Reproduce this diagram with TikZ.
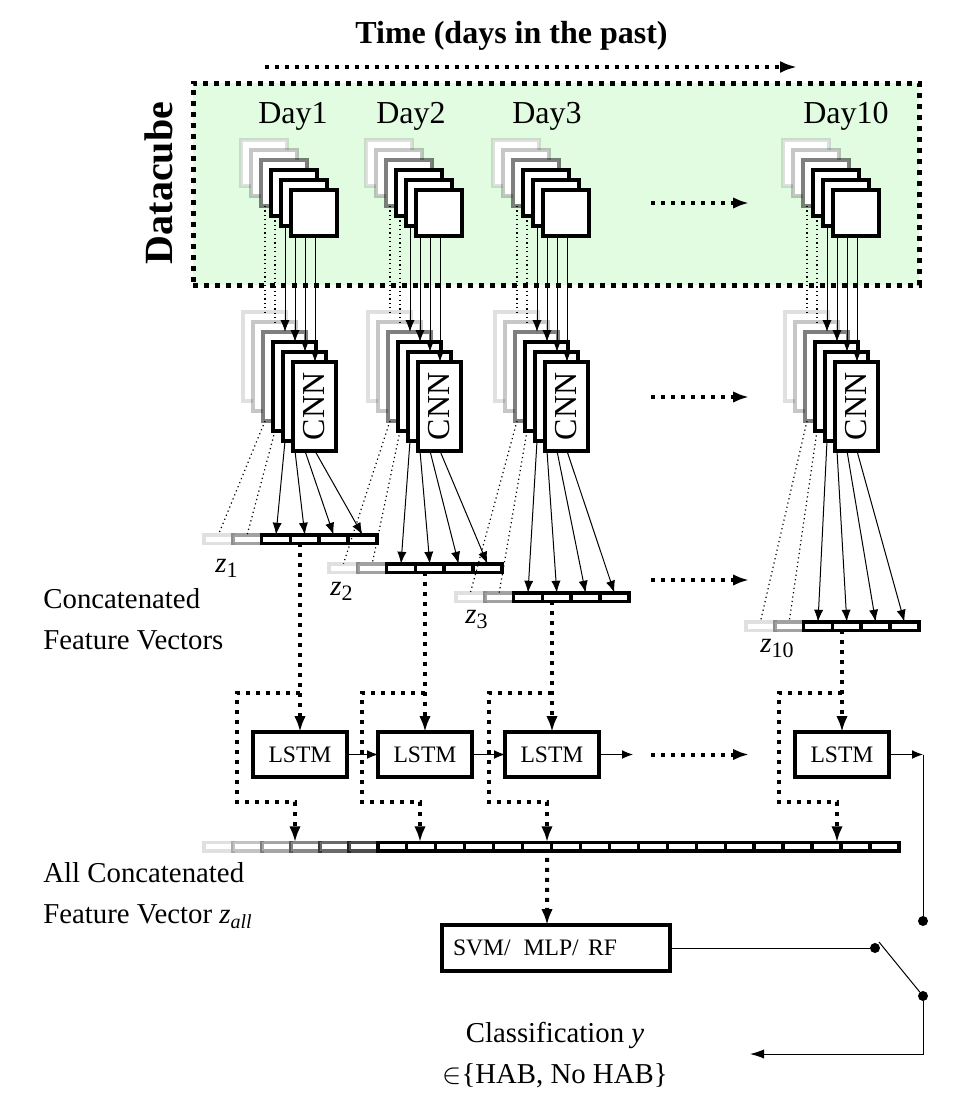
\documentclass[tikz,border=0pt]{standalone}
\usepackage{fontspec}
\setmainfont{Liberation Serif}
\usetikzlibrary{arrows.meta,calc}
\definecolor{cubegreen}{RGB}{226,252,226}
\newcommand\zsub[1]{\raisebox{-2.5pt}{\fontsize{11}{12}\selectfont #1}}
\begin{document}
\begin{tikzpicture}[x=0.5pt,y=-0.5pt,
  sqbox/.style={draw, line width=2pt, fill=white, minimum width=23pt, minimum height=23pt, inner sep=0pt, outer sep=0pt},
  cnnbox/.style={draw, line width=2pt, fill=white, minimum width=21.5pt, minimum height=44.5pt, inner sep=0pt, outer sep=0pt, font=\fontsize{16}{19}\selectfont},
  cell/.style={draw, line width=1.75pt, fill=white, minimum width=14.4pt, minimum height=4.25pt, inner sep=0pt, outer sep=0pt},
  acell/.style={cell, minimum width=14.48pt},
  lstmbox/.style={draw, line width=2pt, minimum width=47pt, minimum height=22.5pt, inner sep=0pt, outer sep=0pt, font=\fontsize{11.8}{13}\selectfont},
  svmbox/.style={draw, line width=2pt, minimum width=114pt, minimum height=23pt, inner xsep=5.5pt, inner ysep=0pt, outer sep=0pt, text width=103pt, align=left, font=\fontsize{11.8}{13}\selectfont},
  dotnode/.style={circle, fill=black, minimum size=5pt, inner sep=0pt, outer sep=0pt},
  thickdot/.style={line width=2pt, dash pattern=on 2pt off 3pt},
  timedot/.style={line width=1.6pt, dash pattern=on 2pt off 3pt},
  cubedot/.style={line width=2.5pt, dash pattern=on 2.5pt off 3pt},
  thinline/.style={line width=0.5pt},
  thindot/.style={line width=0.6pt, dash pattern=on 0.6pt off 1.6pt},
  bigtip/.style={-{Latex[length=8pt,width=5.8pt]}},
  smalltip/.style={-{Latex[length=6pt,width=4.6pt]}},
  midtip/.style={-{Latex[length=5.5pt,width=4.4pt]}},
  outtip/.style={-{Latex[length=7pt,width=4.6pt]}},
  lbl/.style={font=\fontsize{14.4}{17}\selectfont, inner sep=0pt},
  daylbl/.style={font=\fontsize{16}{19}\selectfont, inner sep=0pt, anchor=base}
]
\useasboundingbox (0,0) rectangle (966,1098);

% title and time arrow
\node[font=\bfseries\fontsize{16}{19}\selectfont, anchor=base, inner sep=0pt] (title) at (511.5,43) {Time (days in the past)};
\coordinate (ta) at (265,67);
\coordinate (tb) at (797,67);
\draw[timedot, -{Latex[length=8.5pt,width=6pt]}] (ta) -- (tb);

% datacube
\node[draw, cubedot, fill=cubegreen, minimum width=363pt, minimum height=101pt, inner sep=0pt, outer sep=0pt, anchor=north west] (cube) at (193,83) {};
\node[rotate=90, font=\bfseries\fontsize{20}{24}\selectfont, inner sep=0pt] (dclabel) at (159,183) {Datacube};

\foreach \d/\lx in {1/293,2/411,3/547,10/846}
  \node[daylbl] (day\d) at (\lx,123) {Day\d};

% all concatenated bar
\foreach \i in {0,...,23}{
  \pgfmathsetmacro{\op}{\i<6 ? {0.12+0.116*\i} : 1}
  \node[acell, draw opacity=\op] (a\i) at ({204+28.96*(\i+0.5)},846.5) {};
}

% per-day columns
\foreach \d/\b/\zy/\zx/\zb in {1/289/539/215/572, 2/414/568/330/595, 3/541/597/465/623, 10/831/626/760/652}{
  % datacube squares
  \foreach \k/\op in {0/0.12,1/0.22,2/0.5,3/1,4/1,5/1}
    \node[sqbox, draw opacity=\op] (sq\d-\k) at ({\b+25-10*(5-\k)},{213-10*(5-\k)}) {};
  % CNN rectangles
  \foreach \k/\op in {0/0.12,1/0.22,2/0.5,3/1,4/1}
    \node[cnnbox, draw opacity=\op] (cnn\d-\k) at ({\b+25.5-10*(5-\k)},{406.5-10*(5-\k)}) {};
  \node[cnnbox] (cnn\d-5) at ({\b+25.5},406.5) {\rotatebox{90}{CNN}};
  % feature vector cells
  \foreach \j/\op in {0/0.12,1/0.37,2/1,3/1,4/1,5/1}
    \node[cell, draw opacity=\op] (z\d-\j) at ({\b-70.6+28.8*\j},\zy) {};
  \node[lbl, anchor=base west] (zl\d) at (\zx,\zb) {\textit{z}\zsub{\d}};
  % datacube -> CNN
  \foreach \j/\k/\o in {0/2/4,1/3/4,2/4/4,3/5/4,4/5/14,5/5/24}
    \coordinate (s\d-\j) at ($(sq\d-\k.south west)+(\o,0)$);
  \foreach \j in {0,1}
    \draw[thindot] (s\d-\j) -- (s\d-\j |- cnn\d-\j.north);
  \foreach \j in {2,3,4,5}
    \draw[thinline, smalltip] (s\d-\j) -- (s\d-\j |- cnn\d-\j.north);
  % CNN -> feature vector
  \foreach \j/\k/\o in {0/2/2,1/3/2,2/4/2,3/5/2,4/5/12,5/5/22}
    \coordinate (c\d-\j) at ($(cnn\d-\k.south west)+(\o,0)$);
  \foreach \j in {0,1}
    \draw[thindot] (c\d-\j) -- (z\d-\j.north);
  \foreach \j in {2,3,4,5}
    \draw[thinline, smalltip] (c\d-\j) -- (z\d-\j.north);
  % LSTM
  \node[lstmbox] (lstm\d) at ({\b+11},754.5) {LSTM};
  \draw[thickdot, bigtip] (z\d-3.south -| lstm\d.north) -- (lstm\d.north);
  \coordinate (br\d) at ({\b+11},693);
  \coordinate (lp\d) at ({\b+6},802);
  \draw[thickdot, bigtip] (br\d) -| ({\b-52},802) -- (lp\d) -- (lp\d |- a0.north);
}

% dotted arrows between Day3 and Day10
\foreach \n/\yy in {1/203,2/397,3/580,4/754.5}{
  \coordinate (gs\n) at (651,\yy);
  \coordinate (ge\n) at (749,\yy);
  \draw[thickdot, bigtip] (gs\n) -- (ge\n);
}

% LSTM chain
\draw[thinline, midtip] (lstm1.east) -- (lstm2.west);
\draw[thinline, midtip] (lstm2.east) -- (lstm3.west);
\coordinate (l3out) at (633,754.5);
\draw[thinline, midtip] (lstm3.east) -- (l3out);
\coordinate (corner) at (923,754.5);
\draw[thinline, midtip] (lstm10.east) -- (corner);

% classifier and switch
\node[svmbox] (svm) at (556,948) {SVM/\hspace{0.55em}MLP/\hspace{0.4em}RF};
\draw[thickdot, bigtip] ($(a11.south)+(10,7)$) -- ($(svm.north west)+(105,0)$);
\node[dotnode] (dotA) at (923,921) {};
\node[dotnode] (dotB) at (875,948) {};
\node[dotnode] (dotC) at (923,996) {};
\draw[thinline] (corner) -- (dotA);
\draw[thinline] (svm.east) -- (dotB);
\draw[thinline] ($(dotB)+(4,-6)$) -- (dotC);
\coordinate (outc) at (923,1054);
\coordinate (outa) at (750,1054);
\draw[thinline, outtip] (dotC) -- (outc) -- (outa);

% labels
\node[lbl, anchor=base west] (cfv1) at (43,608) {Concatenated};
\node[lbl, anchor=base west] (cfv2) at (43,649) {Feature Vectors};
\node[lbl, anchor=base west] (acfv1) at (43,882) {All Concatenated};
\node[lbl, anchor=base west] (acfv2) at (43,923) {Feature Vector \textit{z}\raisebox{-2.5pt}{\fontsize{10}{12}\selectfont\textit{all}}};
\node[lbl, anchor=base] (cls1) at (555,1042) {Classification \textit{y}};
\node[lbl, anchor=base] (cls2) at (555,1083) {$\in$\{HAB, No HAB\}};
\end{tikzpicture}
\end{document}
